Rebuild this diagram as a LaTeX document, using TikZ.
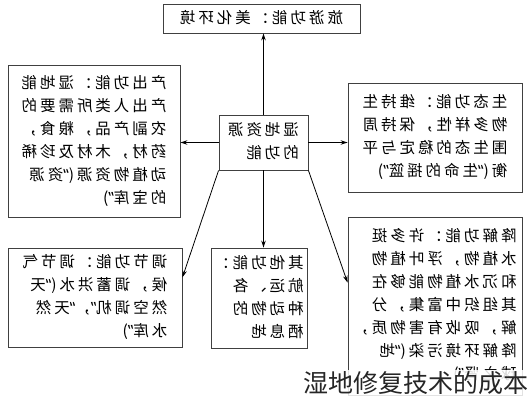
\documentclass[tikz,border=0pt]{standalone}
\usepackage{fontspec}
\usepackage{graphicx}
\usepackage{tikz}
\usetikzlibrary{arrows.meta}
\newfontfamily\cjk[LetterSpace=19]{Noto Sans CJK SC}
\newfontfamily\cjkplain{Noto Sans CJK SC}
\newfontfamily\quotefont[LetterSpace=19]{Noto Sans}
% the diagram's texts are printed mirrored
\newcommand{\mirtext}[1]{\reflectbox{\begin{tabular}{@{}l@{}}#1\end{tabular}}}
\newcommand{\qo}{{\quotefont “}}
\newcommand{\qc}{{\quotefont ”}}

\begin{document}
\begin{tikzpicture}[
    x=1pt, y=-1pt,
    block/.style={rectangle, draw=black!75, line width=0.9pt, inner sep=1pt, font=\cjk\fontsize{15.5}{23}\selectfont},
    arrow/.style={-{Stealth[length=7pt, width=4.5pt]}, line width=0.8pt}
]
    \useasboundingbox (0,0) rectangle (532,400);

    \node[block, minimum width=89pt, minimum height=55pt] (core) at (263.5,142.5) {\mirtext{湿地资源\\的功能}};
    \node[block, minimum width=197pt, minimum height=29pt] (tour) at (261.5,18.5) {\mirtext{旅游功能：美化环境}};
    \node[block, minimum width=172pt, minimum height=152pt] (prod) at (94,141) {\mirtext{产出功能：湿地能\\产出人类所需要的\\农副产品，粮食，\\药材，木材及珍稀\\动植物资源(\qo 资源\\的宝库\qc)}};
    \node[block, minimum width=174pt, minimum height=109pt] (eco) at (435,137.5) {\mirtext{生态功能：维持生\\物多样性，保持周\\围生态的稳定与平\\衡(\qo 生命的摇篮\qc)}};
    \node[block, minimum width=174pt, minimum height=99pt] (regul) at (95,297.5) {\mirtext{调节功能：调节气\\候，调蓄洪水(\qo 天\\然空调机\qc，\qo 天然\\水库\qc)}};
    \node[block, minimum width=96pt, minimum height=100pt] (other) at (259,298) {\mirtext{其他功能：\\航运、各\\种动物的\\栖息地}};
    \node[block, minimum width=174pt, minimum height=178pt] (degr) at (435,306) {\mirtext{降解功能：许多挺\\水植物，浮叶植物\\和沉水植物能够在\\其组织中富集，分\\解，吸收有害物质，\\降解环境污染(\qo 地\\球之肾\qc)}};

    \draw[arrow] (core.north) -- (core.north |- tour.south);
    \draw[arrow] (core.west) -- (core.west -| prod.east);
    \draw[arrow] (core.east) -- (core.east -| eco.west);
    \draw[arrow] (core.south) -- (core.south |- other.north);
    \draw[arrow] (core.south west) -- (regul.13);
    \draw[arrow] (core.south east) -- (degr.165);

    \node[fill=white, fill opacity=0.85, text opacity=1, inner sep=1pt, font=\cjkplain\fontsize{25}{28}\selectfont, text=black!85] (mark) at (416,383) {湿地修复技术的成本};
\end{tikzpicture}
\end{document}
